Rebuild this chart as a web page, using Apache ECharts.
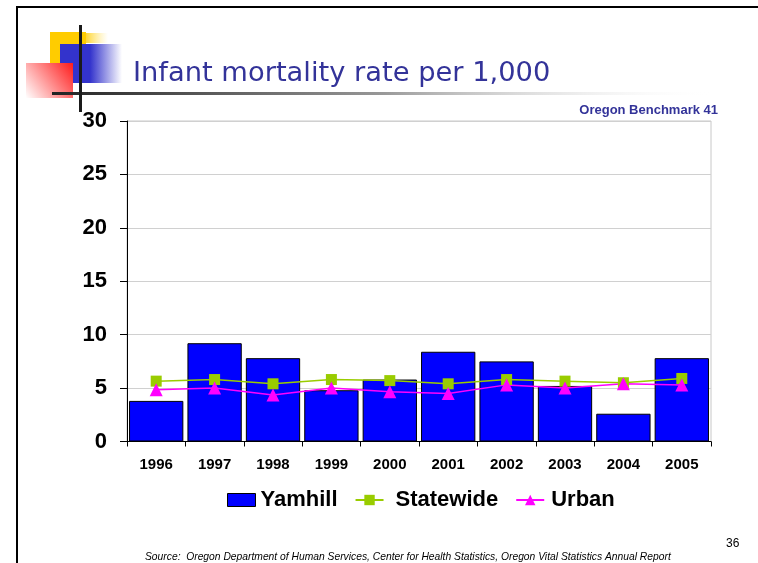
<!DOCTYPE html>
<html>
<head>
<meta charset="utf-8">
<script src="https://cdn.jsdelivr.net/npm/echarts@6/dist/echarts.min.js"></script>
<style>
html,body{margin:0;padding:0;background:#fff;}
#chart{width:758px;height:563px;}
</style>
</head>
<body>
<div id="chart"></div>
<script>
var years = ['1996','1997','1998','1999','2000','2001','2002','2003','2004','2005'];
var yamhill = [3.8, 9.2, 7.8, 4.8, 5.8, 8.4, 7.5, 5.2, 2.6, 7.8];
var statewide = [5.65, 5.8, 5.4, 5.8, 5.7, 5.4, 5.8, 5.65, 5.5, 5.9];
var urban = [4.85, 5.0, 4.35, 5.0, 4.65, 4.5, 5.3, 5.0, 5.4, 5.3];
var yTicks = {min: 0, max: 30, interval: 5};

var chart = echarts.init(document.getElementById('chart'));
var F = 'Liberation Sans, Arial, sans-serif';
chart.setOption({
  animation: false,
  backgroundColor: '#ffffff',
  grid: {left: 127, right: 47, top: 121, bottom: 121.5, show: true, borderColor: '#c8c8c8', borderWidth: 1},
  legend: {
    left: 222, top: 484,
    itemWidth: 28, itemHeight: 13, itemGap: 17,
    textStyle: {fontFamily: F, fontWeight: 'bold', fontSize: 22, color: '#000'},
    data: [
      {name: 'Yamhill', icon: 'rect', itemStyle: {color: '#0000ff', borderColor: '#000', borderWidth: 1}},
      {name: 'Statewide', textStyle: {padding: [0, 11, 0, 7]}},
      {name: 'Urban', textStyle: {padding: [0, 0, 0, 2]}}
    ]
  },
  xAxis: {
    type: 'category', data: years,
    axisLine: {lineStyle: {color: '#000', width: 1}},
    axisTick: {show: true, length: 5, lineStyle: {color: '#000'}},
    axisLabel: {fontFamily: F, fontWeight: 'bold', fontSize: 15, color: '#000', margin: 16}
  },
  yAxis: {
    type: 'value', min: yTicks.min, max: yTicks.max, interval: yTicks.interval,
    axisLine: {show: true, lineStyle: {color: '#000', width: 1}},
    axisTick: {show: true, length: 7, lineStyle: {color: '#000'}},
    splitLine: {lineStyle: {color: '#d0d0d0', width: 1}},
    axisLabel: {fontFamily: F, fontWeight: 'bold', fontSize: 22, color: '#000', margin: 20}
  },
  series: [
    {name: 'Yamhill', type: 'bar', data: yamhill, barCategoryGap: '7%',
     itemStyle: {color: '#0000ff', borderColor: '#000', borderWidth: 1}},
    {name: 'Statewide', type: 'line', data: statewide, symbol: 'rect', symbolSize: 11,
     itemStyle: {color: '#99cc00'}, lineStyle: {color: '#99cc00', width: 1.5}},
    {name: 'Urban', type: 'line', data: urban, symbol: 'triangle', symbolSize: 13,
     itemStyle: {color: '#ff00ff'}, lineStyle: {color: '#ff00ff', width: 1.5}}
  ],
  graphic: [
    {type: 'line', shape: {x1: 17, y1: 7, x2: 758, y2: 7}, style: {stroke: '#000', lineWidth: 2}, z: 100},
    {type: 'line', shape: {x1: 17, y1: 6, x2: 17, y2: 563}, style: {stroke: '#000', lineWidth: 2}, z: 100},
    {type: 'rect', shape: {x: 86, y: 33, width: 22, height: 10},
     style: {fill: new echarts.graphic.LinearGradient(0, 0, 1, 0, [{offset: 0, color: '#ffd633'}, {offset: 1, color: 'rgba(255,230,120,0)'}])}, z: 100},
    {type: 'rect', shape: {x: 50, y: 32, width: 36, height: 36}, style: {fill: '#ffcc00'}, z: 100},
    {type: 'rect', shape: {x: 90, y: 44, width: 32, height: 39},
     style: {fill: new echarts.graphic.LinearGradient(0, 0, 1, 0, [{offset: 0, color: '#3333cc'}, {offset: 1, color: 'rgba(51,51,204,0)'}])}, z: 101},
    {type: 'rect', shape: {x: 60, y: 44, width: 30, height: 39}, style: {fill: '#3333cc'}, z: 101},
    {type: 'rect', shape: {x: 26, y: 63, width: 47, height: 35},
     style: {fill: new echarts.graphic.LinearGradient(1, 0, 0, 1, [{offset: 0, color: '#ff1a1a'}, {offset: 1, color: '#ffffff'}])}, z: 102},
    {type: 'rect', shape: {x: 52, y: 92, width: 665, height: 3},
     style: {fill: new echarts.graphic.LinearGradient(0, 0, 1, 0, [{offset: 0, color: '#222222'}, {offset: 0.5, color: '#999999'}, {offset: 1, color: 'rgba(255,255,255,0)'}])}, z: 103},
    {type: 'rect', shape: {x: 79, y: 25, width: 3, height: 87}, style: {fill: '#1a1a1a'}, z: 104},
    {type: 'text', left: 133, top: 60, z: 105,
     style: {text: 'Infant mortality rate per 1,000', font: '27.3px DejaVu Sans, Verdana, sans-serif', fill: '#333399'}},
    {type: 'text', right: 40, top: 104, z: 105,
     style: {text: 'Oregon Benchmark 41', font: 'bold 13px Liberation Sans, Arial, sans-serif', fill: '#333399'}},
    {type: 'text', left: 726, top: 538, z: 105,
     style: {text: '36', font: '12px Liberation Sans, Arial, sans-serif', fill: '#000'}},
    {type: 'text', left: 145, top: 552, z: 105,
     style: {text: 'Source:  Oregon Department of Human Services, Center for Health Statistics, Oregon Vital Statistics Annual Report', font: 'italic 10.3px Liberation Sans, Arial, sans-serif', fill: '#000'}}
  ]
});
</script>
</body>
</html>
